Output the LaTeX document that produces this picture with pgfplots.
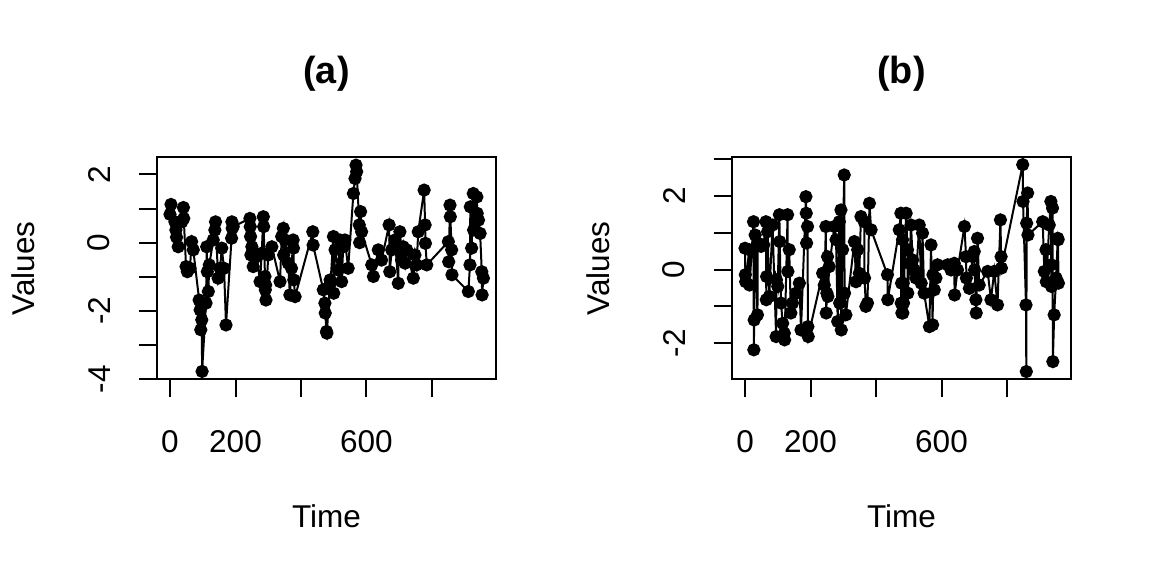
\documentclass[border=0pt]{standalone}
\usepackage{pgfplots}
\pgfplotsset{compat=1.18}
\usepackage{pgfplotstable}
\usepackage{fontspec}
\setmainfont{Liberation Sans}

% panel (a): time, value
\pgfplotstableread{
t v
0 0.83
3 1.12
15 0.61
18 0.37
20 0.16
25 -0.12
36 0.61
41 1.03
42 0.71
49 -0.70
53 -0.85
61 -0.75
66 0.03
71 -0.21
89 -1.68
92 -1.97
94 -2.55
97 -2.26
98 -3.77
110 -1.77
112 -0.12
114 -0.85
117 -1.43
120 -0.65
132 0.08
137 0.37
139 0.61
147 -1.04
153 -0.75
158 -0.16
165 -0.75
171 -2.41
188 0.13
189 0.61
190 0.42
193 0.47
244 0.71
245 0.47
246 0.18
247 -0.36
250 -0.12
254 -0.70
265 -0.41
275 -1.14
280 -0.31
285 0.76
286 0.47
290 -0.99
291 -1.38
292 -1.24
293 -1.68
300 -0.36
311 -0.12
336 -1.14
341 0.18
346 0.42
347 -0.36
351 0.08
361 -0.60
366 -1.53
371 -0.75
376 0.08
377 -0.16
378 -1.09
382 -1.58
436 0.32
437 -0.07
468 -1.38
473 -1.77
474 -2.06
478 -2.60
479 -2.65
489 -1.09
490 -1.19
499 0.18
500 -1.48
504 -0.21
514 -0.80
519 0.08
524 -1.14
529 -0.12
534 0.08
544 -0.75
560 1.44
565 1.88
568 2.27
570 2.08
578 0.52
579 0.00
582 0.91
585 0.32
616 -0.65
621 -0.99
636 -0.21
646 -0.51
669 0.52
671 -0.85
677 -0.21
687 0.08
697 -1.19
698 -0.21
702 0.32
707 -0.51
712 -0.12
718 -0.60
723 -0.21
743 -1.04
748 -0.36
753 -0.65
758 0.32
776 1.54
779 0.52
780 -0.02
784 -0.65
850 0.03
851 -0.56
855 1.10
856 0.76
860 -0.21
861 -0.94
911 -1.43
916 -0.65
917 1.05
921 -0.16
926 1.44
927 0.37
937 1.34
938 0.86
942 0.66
947 0.27
952 -0.85
953 -1.53
957 -1.04
}\seriesa

% panel (b): time, value
\pgfplotstableread{
t v
0 0.58
1 -0.14
2 -0.33
13 0.54
14 -0.42
26 1.30
27 -2.18
28 -1.37
31 0.94
38 -1.23
39 0.72
49 0.63
57 0.67
64 1.30
65 -0.82
66 -0.19
69 1.03
74 -0.73
84 1.21
95 -1.82
96 -0.28
100 -0.46
105 1.49
106 0.76
110 -0.91
115 -1.46
120 -1.73
121 -1.91
130 1.49
131 -0.05
135 0.54
140 -1.18
145 -0.91
156 -0.64
166 -0.37
171 -1.64
186 1.98
187 1.53
188 0.72
191 1.17
192 -1.55
193 -1.82
237 -0.10
242 -0.42
247 1.17
248 -1.18
250 -0.64
252 0.35
253 -0.73
257 0.08
273 1.17
278 0.81
283 -1.41
288 1.30
289 -0.91
293 1.62
294 -1.64
298 0.54
303 2.57
304 -0.64
308 -1.23
334 0.76
339 -0.33
344 0.54
349 -0.10
354 1.44
364 1.30
365 -0.23
369 -1.00
374 -0.91
380 1.80
385 1.08
435 -0.14
436 -0.82
471 1.08
476 1.53
477 -0.91
478 -0.37
479 -1.18
481 0.81
482 -1.18
483 -0.37
484 -0.91
492 1.53
496 0.54
497 -0.64
502 0.17
507 1.21
512 0.26
517 -0.01
522 -0.23
532 1.21
538 -0.37
542 0.99
547 -0.64
563 -1.55
568 0.67
573 -1.50
574 -0.14
578 -0.55
583 -0.23
588 0.13
619 0.13
629 -0.01
639 0.17
640 -0.69
649 -0.01
670 1.17
675 0.35
676 -0.23
685 -0.51
695 0.35
700 0.49
701 -0.01
705 -0.82
706 -1.18
710 0.85
715 -0.42
741 -0.05
751 -0.82
761 -0.05
771 -0.96
780 1.35
782 0.35
783 0.04
848 2.85
849 1.85
858 -0.96
859 -2.77
860 1.26
863 2.08
864 0.94
909 1.30
914 -0.05
919 0.54
920 -0.33
929 1.21
934 1.85
935 0.13
936 -0.46
939 1.67
940 -2.50
944 -1.23
950 -0.23
955 0.85
956 0.81
957 -0.37
}\seriesb

\pgfplotsset{
  rpanel/.style={
    scale only axis,
    width=169.2pt, height=111pt,
    anchor=south west,
    axis line style={line width=1pt},
    tick style={line width=1pt, black},
    tick align=outside,
    major tick length=9pt,
    xtick pos=bottom, ytick pos=left,
    xtick={0,200,400,600,800},
    xticklabels={0,200,,600,},
    xmin=-38.8, xmax=994.5,
    ticklabel style={font=\fontsize{15.75}{18}\selectfont},
    xticklabel shift=13pt,
    yticklabel shift=11pt,
    yticklabel style={rotate=90, anchor=south},
    label style={font=\fontsize{15.75}{18}\selectfont},
    xlabel={Time}, ylabel={Values},
    xlabel style={at={(axis description cs:0.5,-0.6658)}, anchor=base},
    ylabel style={at={(axis description cs:-0.3617,0.5)}, anchor=base, rotate=0},
    title style={at={(axis description cs:0.5,1.2793)}, anchor=base,
      font=\bfseries\fontsize{18.9}{22}\selectfont},
  },
  rline/.style={black, line width=1pt, mark=*, mark size=2.8pt,
    mark options={fill=black, solid}},
}

\begin{document}
\begin{tikzpicture}
\useasboundingbox[fill=white] (0,0) rectangle (576pt,288pt);

\begin{axis}[rpanel, at={(78.65pt,98.35pt)},
  title={(a)},
  ymin=-4.0, ymax=2.50,
  ytick={-4,-3,-2,-1,0,1,2},
  yticklabels={-4,,-2,,0,,2}]
\addplot[rline] table[x=t, y=v] {\seriesa};
\end{axis}

\begin{axis}[rpanel, at={(366.15pt,98.35pt)},
  title={(b)},
  ymin=-2.98, ymax=3.05,
  ytick={-2,-1,0,1,2,3},
  yticklabels={-2,,0,,2,}]
\addplot[rline] table[x=t, y=v] {\seriesb};
\end{axis}
\end{tikzpicture}
\end{document}
